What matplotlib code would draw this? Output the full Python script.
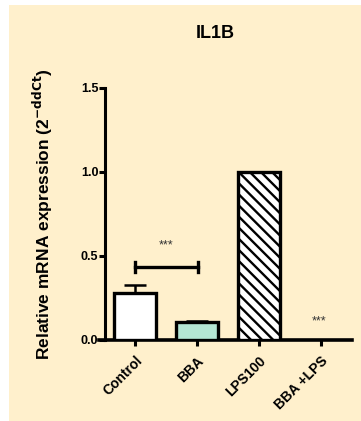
import matplotlib
matplotlib.use("Agg")
import matplotlib.pyplot as plt
from matplotlib.patches import Rectangle
import numpy as np

plt.rcParams['font.family'] = ['Liberation Sans', 'DejaVu Sans']
plt.rcParams['hatch.linewidth'] = 1.7

# data
groups = ["Control", "BBA", "LPS100", "BBA +LPS"]
values = [0.28, 0.105, 1.0, 0.0]
errors = [0.05, 0.01, 0.0, 0.0]
yticks = [0.0, 0.5, 1.0, 1.5]
sig_y = 0.437

cream = "#FFF0CC"
fills = ["white", "#B4E6D4", "white", "white"]
hatches = [None, None, "\\\\\\", None]

fig = plt.figure(figsize=(3.61, 4.21), dpi=100)
fig.patch.set_facecolor("white")
fig.patches.append(Rectangle((9 / 361, 0), 1, 416 / 421, transform=fig.transFigure,
                             facecolor=cream, edgecolor="none", zorder=-10))

ax = fig.add_axes([99 / 361, 81 / 421, 253 / 361, 252 / 421])
ax.patch.set_alpha(0)

x = np.arange(len(groups))
for i in range(len(groups)):
    if values[i] > 0:
        ax.bar(x[i], values[i], 0.69, color=fills[i], edgecolor="black",
               linewidth=2.4, hatch=hatches[i], zorder=3)
    if errors[i] > 0:
        ax.errorbar(x[i], values[i], yerr=[[0], [errors[i]]], fmt="none",
                    ecolor="black", elinewidth=1.8, capsize=8, capthick=1.8, zorder=2)

# significance bracket
ax.plot([0, 1.02], [sig_y, sig_y], color="black", lw=2.4)
ax.plot([0, 0], [sig_y - 0.03, sig_y + 0.03], color="black", lw=2.4)
ax.plot([1.02, 1.02], [sig_y - 0.03, sig_y + 0.03], color="black", lw=2.4)
ax.text(0.5, 0.56, "***", ha="center", va="center", fontsize=9, color="#333333")
ax.text(2.97, 0.11, "***", ha="center", va="center", fontsize=9, color="#333333")

ax.set_xlim(-0.58, 3.5)
ax.set_ylim(0, 1.5)
ax.spines["top"].set_visible(False)
ax.spines["right"].set_visible(False)
ax.spines["left"].set_position(("data", -0.48))
ax.spines["left"].set_linewidth(2.2)
ax.spines["bottom"].set_linewidth(2.6)
ax.set_yticks(yticks)
ax.set_yticklabels(["0.0", "0.5", "1.0", "1.5"], fontsize=9, fontweight="bold")
ax.set_xticks(x)
ax.set_xticklabels(groups, rotation=45, ha="right", rotation_mode="anchor",
                   fontsize=10, fontweight="bold")
ax.tick_params(axis="y", length=4, width=2.2, pad=1)
ax.tick_params(axis="x", length=4, width=2.2, pad=6)

fig.text(43 / 361, 1 - 214 / 421, "Relative mRNA expression (2$^{\\mathbf{-ddCt}}$)",
         rotation=90, ha="center", va="center", fontsize=12.5, fontweight="bold")
fig.text(215 / 361, 1 - 34 / 421, "IL1B", ha="center", va="center",
         fontsize=13, fontweight="bold")

fig.savefig("out.png", dpi=100, facecolor=fig.get_facecolor())
